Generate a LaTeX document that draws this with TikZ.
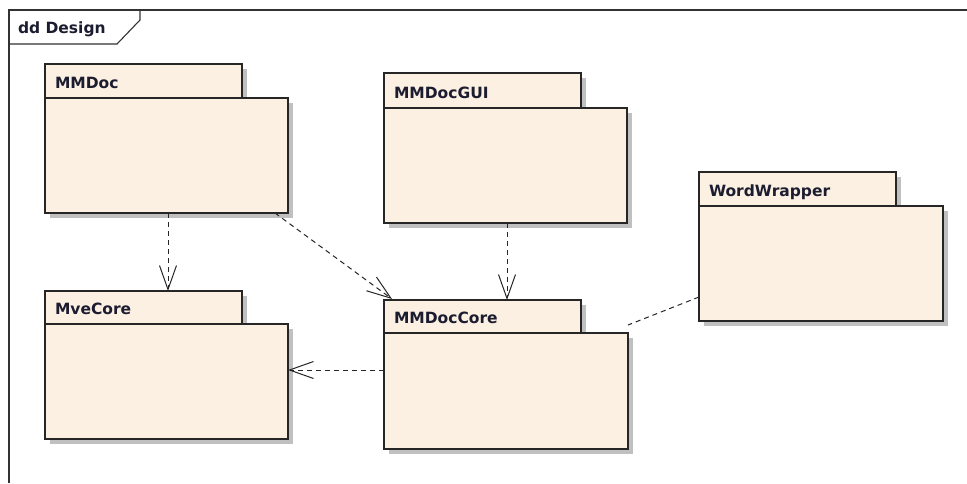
\documentclass[tikz,border=0pt]{standalone}
\usepackage{fontspec}
\setmainfont{DejaVu Sans}
\usetikzlibrary{arrows.meta,calc}
\definecolor{pkgfill}{RGB}{251,240,225}
\definecolor{shad}{RGB}{192,192,192}
\definecolor{txt}{RGB}{28,28,48}
\definecolor{framec}{RGB}{50,50,50}
\tikzset{
  pbody/.style={draw=black!85, fill=pkgfill, line width=1.3pt, inner sep=0pt, outer sep=0pt, rectangle},
  ptab/.style={draw=black!85, fill=pkgfill, line width=1.3pt, inner sep=0pt, outer sep=0pt, rectangle},
  plabel/.style={inner sep=0pt, outer sep=0pt, text=txt, font=\fontsize{15.5}{18}\selectfont\bfseries},
  dep/.style={draw=black!85, line width=1pt, dash pattern=on 5pt off 4pt},
  deparrow/.style={dep, -{Straight Barb[length=24pt, width=17pt, line width=1pt]}},
  shadowfill/.style={fill=shad}
}
% name, left, tabtop, tabright, bodytop, bodyright, bottom, label
\newcommand\pkgbox[8]{%
  \fill[shadowfill] (#2+5,#5+5) rectangle (#6+5,#7+5);
  \fill[shadowfill] (#2+5,#3+5) rectangle (#4+5,#5+5);
  \node[pbody, anchor=north west, minimum width={(#6-#2)*1pt}, minimum height={(#7-#5)*1pt}] (#1) at (#2,#5) {};
  \node[ptab, anchor=south west, minimum width={(#4-#2)*1pt}, minimum height={(#5-#3)*1pt}] (#1-tab) at (#2,#5) {};
  \node[plabel, anchor=base west] (#1-label) at (#2+10,#5-10) {#8};
}
\begin{document}
\begin{tikzpicture}[x=1pt,y=-1pt]
\useasboundingbox (0,0) rectangle (967,483);
\fill[white] (0,0) rectangle (967,483);
% frame
\coordinate (ftl) at (9,10);
\coordinate (ftr) at (967,10);
\coordinate (fbl) at (9,483);
\draw[framec, line width=1.1pt] (ftr) -- (ftl) -- (fbl);
\coordinate (fl1) at (9,44);
\coordinate (fl2) at (117,44);
\coordinate (fl3) at (140,20);
\coordinate (fl4) at (140,10);
\draw[framec, line width=1.1pt] (fl1) -- (fl2) -- (fl3) -- (fl4);
\node[plabel, anchor=base west] (framelabel) at (18,33) {dd Design};
% packages
\pkgbox{mmdoc}{45}{64}{242}{98}{288}{213}{MMDoc}
\pkgbox{gui}{384}{73}{581}{108}{627}{223}{MMDocGUI}
\pkgbox{ww}{699}{172}{896}{206}{943}{321}{WordWrapper}
\pkgbox{core}{384}{300}{581}{333}{628}{449}{MMDocCore}
\pkgbox{mve}{45}{291}{242}{324}{288}{439}{MveCore}
% connectors
\draw[deparrow] ([xshift=1.5pt]mmdoc.south) -- ([xshift=1.5pt]mmdoc.south |- mve-tab.north);
\draw[deparrow] ([xshift=-13pt]mmdoc.south east) -- ([xshift=8pt,yshift=1pt]core-tab.north west);
\draw[deparrow] ([xshift=1.5pt]gui.south) -- ([xshift=1.5pt]gui.south |- core-tab.north);
\coordinate (cw) at ($(core.west)+(0,-21)$);
\draw[deparrow] (cw) -- (cw -| mve.east);
\draw[dep] ([yshift=24pt]ww.south west) -- ([yshift=8pt]core.north east);
\end{tikzpicture}
\end{document}
